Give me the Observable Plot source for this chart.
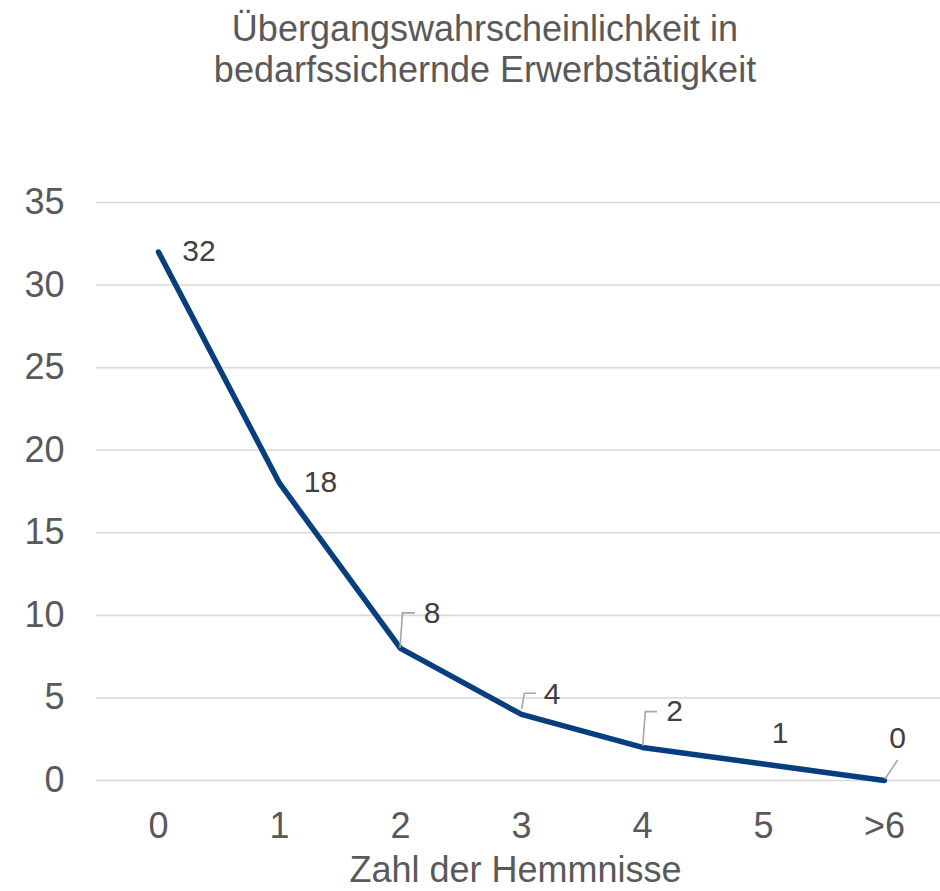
<!DOCTYPE html>
<html>
<head>
<meta charset="utf-8">
<script src="https://cdn.jsdelivr.net/npm/d3@7"></script>
<script src="https://cdn.jsdelivr.net/npm/@observablehq/plot@0.6"></script>
<style>
  html, body { margin: 0; padding: 0; background: #fff; }
  #title {
    box-sizing: border-box;
    width: 940px; height: 110px;
    padding: 8px 0 0 30px;
    text-align: center;
    font-family: "Liberation Sans", Arial, sans-serif;
    font-size: 36px; line-height: 41px;
    color: #595959;
  }
  #chart svg { display: block; }
</style>
</head>
<body>
<div id="title">Übergangswahrscheinlichkeit in<br>bedarfssichernde Erwerbstätigkeit</div>
<div id="chart"></div>
<script>
// ---- data ----
const categories = ["0", "1", "2", "3", "4", "5", ">6"];
const values = [32, 18, 8, 4, 2, 1, 0];
const yTicks = [0, 5, 10, 15, 20, 25, 30, 35];
const xTitle = "Zahl der Hemmnisse";

const data = categories.map((c, i) => ({cat: c, value: values[i]}));

// ---- label placement (pixel offsets from each point) ----
const labelLayout = [
  {dx: 40.5, dy: -0.5, leader: null},
  {dx: 41, dy: -0.5, leader: null},
  {dx: 31.5, dy: -35, leader: [[0, 0], [2.5, -35], [15, -35]]},
  {dx: 30.5, dy: -20, leader: [[0.7, -5], [3.3, -20.7], [15, -20.7]]},
  {dx: 32, dy: -36, leader: [[0.7, -1], [3.3, -35.3], [15, -35.3]]},
  {dx: 16.5, dy: -31, leader: null},
  {dx: 13, dy: -42, leader: [[13.7, -20], [1, -1]]}
];

const font = '"Liberation Sans", Arial, sans-serif';

const labelMarks = data.map((d, i) =>
  Plot.text([d], {
    x: "cat", y: "value", text: d => String(d.value),
    dx: labelLayout[i].dx, dy: labelLayout[i].dy,
    textAnchor: "middle", fill: "#404040", fontSize: 30, fontFamily: font
  })
);

const chart = Plot.plot({
  width: 940,
  height: 781,
  marginTop: 92,
  marginBottom: 111,
  marginLeft: 96,
  marginRight: 0,
  style: {fontFamily: font, fontSize: "36px", color: "#595959", background: "#fff"},
  x: {
    type: "point", domain: categories, range: [96.4, 944.6], padding: 0.5,
    tickSize: 0, tickPadding: 32, label: null
  },
  y: {
    domain: [0, 35], ticks: yTicks, tickSize: 0, tickPadding: 32, label: null
  },
  marks: [
    Plot.ruleY(yTicks, {stroke: "#d9d9d9", strokeWidth: 1.6}),
    Plot.line(data, {
      x: "cat", y: "value", stroke: "#063e7e", strokeWidth: 5.5,
      strokeLinejoin: "round", strokeLinecap: "round"
    }),
    ...labelMarks,
    Plot.text([xTitle], {
      frameAnchor: "bottom", dx: -3, dy: 101,
      fill: "#595959", fontSize: 36, fontFamily: font
    })
  ]
});

document.getElementById("chart").appendChild(chart);

// ---- leader lines, positioned with Plot's own scales ----
const sx = chart.scale("x"), sy = chart.scale("y");
const svg = d3.select(chart.tagName.toLowerCase() === "svg" ? chart : chart.querySelector("svg"));
const g = svg.append("g").attr("fill", "none").attr("stroke", "#a6a6a6").attr("stroke-width", 1.6);
data.forEach((d, i) => {
  const L = labelLayout[i].leader;
  if (!L) return;
  const px = sx.apply(d.cat), py = sy.apply(d.value);
  g.append("path").attr("d", "M" + L.map(([ox, oy]) => (px + ox) + "," + (py + oy)).join("L"));
});
</script>
</body>
</html>
